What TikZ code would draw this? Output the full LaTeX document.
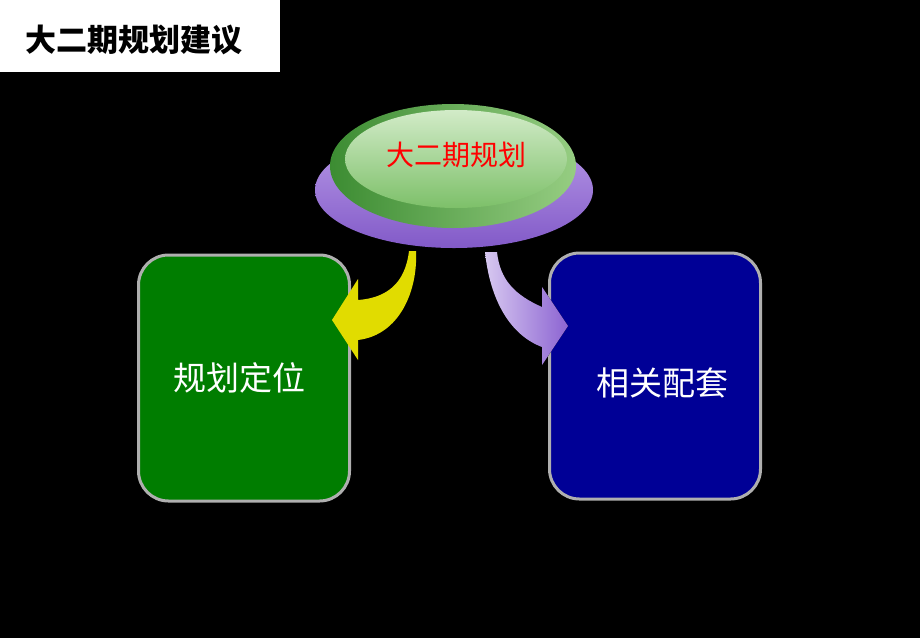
\documentclass[tikz,border=0pt]{standalone}
\usepackage{fontspec}
\newfontfamily\cjk{Noto Sans CJK SC}
\usepackage{tikz}
\usetikzlibrary{positioning, shapes.geometric}

\definecolor{boxgreen}{RGB}{0,125,0}
\definecolor{boxblue}{RGB}{0,0,150}
\definecolor{rimgray}{RGB}{175,175,175}
\definecolor{platedark}{RGB}{60,140,50}
\definecolor{platelight}{RGB}{150,205,130}
\definecolor{facelight}{RGB}{210,235,200}
\definecolor{facedark}{RGB}{125,192,105}
\definecolor{basetop}{RGB}{185,155,232}
\definecolor{basebottom}{RGB}{130,90,200}
\definecolor{arrowyellow}{RGB}{225,220,0}
\definecolor{arrowlilac}{RGB}{215,200,240}
\definecolor{arrowpurple}{RGB}{140,100,210}

\begin{document}
\begin{tikzpicture}[x=1pt, y=-1pt,
    basenode/.style={ellipse, minimum width=278pt, minimum height=116pt, inner sep=0pt, top color=basetop, bottom color=basebottom},
    platenode/.style={ellipse, minimum width=246pt, minimum height=124pt, inner sep=0pt, left color=platedark, right color=platelight},
    facenode/.style={ellipse, minimum width=222pt, minimum height=98pt, inner sep=0pt, top color=facelight, bottom color=facedark},
    boxnode/.style={rectangle, rounded corners=30pt, draw=rimgray, line width=3pt, minimum width=211pt, minimum height=246pt, text=white, font=\cjk\fontsize{33}{38}\selectfont},
]
\useasboundingbox (0,0) rectangle (920,638);
\fill[black] (0,0) rectangle (920,638);

% title
\fill[white] (0,0) rectangle (280,72);
\node[anchor=west, font=\cjk\bfseries\fontsize{31}{36}\selectfont](title) at (22,40){大二期规划建议};

% top plate
\node[basenode](base) at (454,190){};
\node[platenode](plate) at (453,166){};
\node[facenode](face) at (456,159){};
\node[text=red, font=\cjk\fontsize{28}{32}\selectfont](plan) at (456,155){大二期规划};

% boxes
\node[boxnode, fill=boxgreen](position) at (244,378){};
\node[text=white, font=\cjk\fontsize{33}{38}\selectfont](position_text) at (239,378){规划定位};
\node[boxnode, fill=boxblue](support) at (655,376){};
\node[text=white, font=\cjk\fontsize{33}{38}\selectfont](support_text) at (662,383){相关配套};

% arrows
\fill[arrowyellow] (409,251) .. controls (405,285) and (385,298) .. (358,300)
    -- (358,279) -- (332,320) -- (358,360) -- (358,340)
    .. controls (400,335) and (418,290) .. (416,251) -- cycle;
\fill[left color=arrowlilac, right color=arrowpurple] (485,252) .. controls (490,300) and (510,335) .. (542,347)
    -- (542,365) -- (568,326) -- (542,287) -- (542,307)
    .. controls (515,295) and (500,280) .. (497,252) -- cycle;
\end{tikzpicture}
\end{document}
